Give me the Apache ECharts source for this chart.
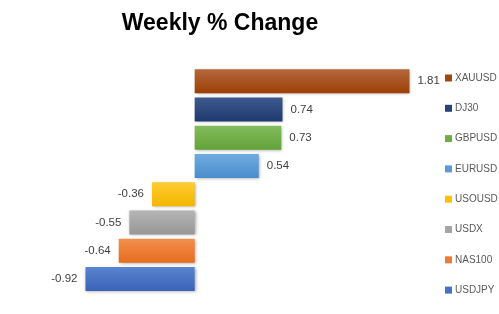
<!DOCTYPE html>
<html><head><meta charset="utf-8">
<script src="https://cdn.jsdelivr.net/npm/echarts@6/dist/echarts.min.js"></script>
<style>html,body{margin:0;padding:0;background:#fff}#c{width:499px;height:314px}</style>
</head><body><div id="c"></div>
<script>
const categories = ['XAUUSD','DJ30','GBPUSD','EURUSD','USOUSD','USDX','NAS100','USDJPY'];
const values = [1.81, 0.74, 0.73, 0.54, -0.36, -0.55, -0.64, -0.92];
const colorsTop = ['#b5683e','#3d5a8f','#83bd5c','#6eabe0','#ffcc33','#b5b5b5','#f28f4e','#5a85d0'];
const colorsBottom = ['#9c3f05','#1f3a6e','#63a23a','#4b8ccc','#f2b700','#979797','#e66c1e','#3a62b8'];
const legendColors = ['#9e480e','#264478','#70ad47','#5b9bd5','#ffc000','#a5a5a5','#ed7d31','#4472c4'];

const chart = echarts.init(document.getElementById('c'));
const series = categories.map((name, i) => ({
  name: name,
  type: 'bar',
  barWidth: 24,
  barGap: '-100%',
  data: categories.map((c, j) => j === i ? values[i] : '-'),
  itemStyle: {
    color: new echarts.graphic.LinearGradient(0, 0, 0, 1, [
      {offset: 0, color: colorsTop[i]}, {offset: 1, color: colorsBottom[i]}
    ]),
    shadowColor: 'rgba(0,0,0,0.35)', shadowBlur: 3, shadowOffsetX: 1, shadowOffsetY: 1
  },
  label: {
    show: true,
    position: values[i] >= 0 ? 'right' : 'left',
    distance: 8,
    color: '#404040',
    fontSize: 11.5,
    fontFamily: 'Liberation Sans',
    formatter: p => p.value.toFixed(2)
  }
}));

chart.setOption({
  animation: false,
  title: {
    text: 'Weekly % Change',
    left: 215, top: 7, textAlign: 'center',
    textStyle: {fontFamily: 'Liberation Sans', fontWeight: 'bold', fontSize: 23, color: '#000'}
  },
  legend: {
    orient: 'vertical', left: 440, top: 68,
    itemWidth: 7, itemHeight: 7, itemGap: 20.3,
    icon: 'rect',
    textStyle: {color: '#595959', fontSize: 10, fontFamily: 'Liberation Sans', padding: [0,0,0,-2]},
    data: categories.map((c, i) => ({name: c, itemStyle: {color: legendColors[i]}}))
  },
  grid: {left: 76, width: 356, top: 67, height: 226},
  xAxis: {type: 'value', min: -1, max: 2, show: false},
  yAxis: {type: 'category', data: categories, inverse: true, show: false},
  series: series
});
</script></body></html>
